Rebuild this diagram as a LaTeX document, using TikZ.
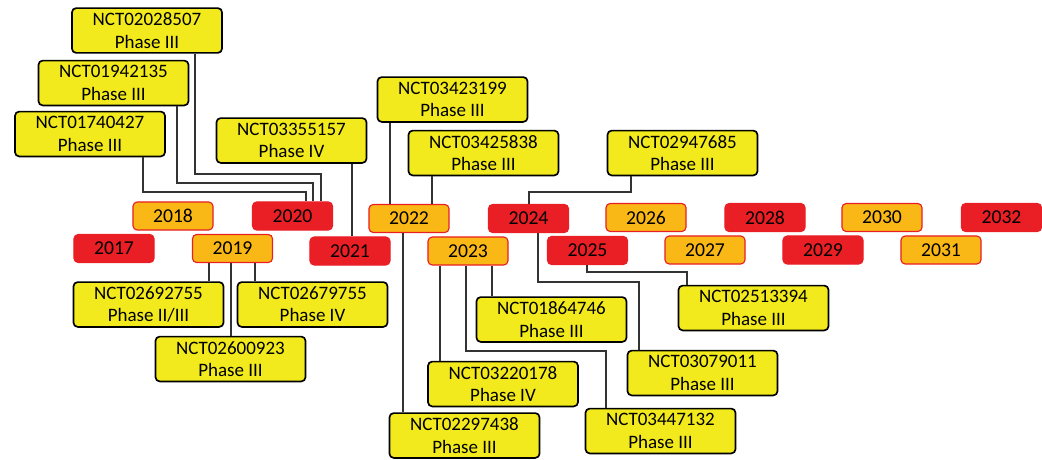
\documentclass[tikz,border=0pt]{standalone}
\usepackage{fontspec}
\setmainfont{Carlito}
\usetikzlibrary{calc}

\definecolor{trialyellow}{RGB}{242,234,28}
\definecolor{yearorange}{RGB}{250,184,22}
\definecolor{yearred}{RGB}{234,30,37}

\begin{document}
\begin{tikzpicture}[x=0.025cm, y=-0.025cm,
  trial/.style={draw=black, line width=1.2pt, fill=trialyellow, rounded corners=3pt,
    minimum width=3.75cm, minimum height=1.12cm, inner sep=1pt, align=center,
    font=\fontsize{13.5}{15.8}\selectfont},
  yearbox/.style={draw=yearred, line width=0.8pt, rounded corners=3pt,
    minimum width=2cm, minimum height=0.7cm, inner sep=0pt,
    font=\fontsize{14}{16}\selectfont},
  link/.style={draw=black!80, line width=0.75pt}]

\useasboundingbox (0,0) rectangle (1042,460);

% Timeline of years, two staggered rows
\foreach \yr/\cx/\cy/\col in {
  2017/114/248.5/yearred,
  2018/173/216/yearorange,
  2019/232.5/248.5/yearorange,
  2020/292.5/216/yearred,
  2021/350/251/yearred,
  2022/409/218.5/yearorange,
  2023/468/251/yearorange,
  2024/528.5/218.5/yearred,
  2025/587.5/250.5/yearred,
  2026/646/217.5/yearorange,
  2027/705/250/yearorange,
  2028/765/217.5/yearred,
  2029/823/250/yearred,
  2030/882/217.5/yearorange,
  2031/941/250/yearorange,
  2032/1001.5/217.5/yearred}{
  \node[yearbox, fill=\col] (y\yr) at (\cx,\cy) {\yr};
}

% Trials above the timeline
\node[trial] (t02028507) at (147,30.5) {NCT02028507\\Phase III};
\node[trial] (t01942135) at (113.5,83) {NCT01942135\\Phase III};
\node[trial] (t01740427) at (90,134) {NCT01740427\\Phase III};
\node[trial] (t03355157) at (291.5,140.5) {NCT03355157\\Phase IV};
\node[trial] (t03423199) at (452.5,99.5) {NCT03423199\\Phase III};
\node[trial] (t03425838) at (483.5,153) {NCT03425838\\Phase III};
\node[trial] (t02947685) at (682.5,153) {NCT02947685\\Phase III};

% Trials below the timeline
\node[trial] (t02692755) at (148.5,304.5) {NCT02692755\\Phase II/III};
\node[trial] (t02679755) at (312.5,304.5) {NCT02679755\\Phase IV};
\node[trial] (t02600923) at (230.5,359) {NCT02600923\\Phase III};
\node[trial] (t01864746) at (551.5,319.5) {NCT01864746\\Phase III};
\node[trial] (t03220178) at (503,384) {NCT03220178\\Phase IV};
\node[trial] (t02297438) at (464.5,435.5) {NCT02297438\\Phase III};
\node[trial] (t03447132) at (660.5,431) {NCT03447132\\Phase III};
\node[trial] (t03079011) at (702.5,373) {NCT03079011\\Phase III};
\node[trial] (t02513394) at (753.5,308) {NCT02513394\\Phase III};

% Links from upper trials down to their year
\draw[link] (t02028507.south -| 195,0) |- (321,174) -- (y2020.north -| 321,0);
\draw[link] (t01942135.south -| 177,0) |- (313,183) -- (y2020.north -| 313,0);
\draw[link] (t01740427.south -| 143,0) |- (306,192) -- (y2020.north -| 306,0);
\draw[link] (t03355157.south -| 352,0) -- (y2021.north -| 352,0);
\draw[link] (t03423199.south -| 390,0) -- (y2022.north -| 390,0);
\draw[link] (t03425838.south -| 432,0) -- (y2022.north -| 432,0);
\draw[link] (t02947685.south -| 631,0) |- (529,192) -- (y2024.north -| 529,0);

% Links from years down to lower trials
\draw[link] (y2019.south -| 209,0) -- (t02692755.north -| 209,0);
\draw[link] (y2019.south -| 231,0) -- (t02600923.north -| 231,0);
\draw[link] (y2019.south -| 255,0) -- (t02679755.north -| 255,0);
\draw[link] (y2022.south -| 403,0) -- (t02297438.north -| 403,0);
\draw[link] (y2023.south -| 440,0) -- (t03220178.north -| 440,0);
\draw[link] (y2023.south -| 466,0) |- (606,351) -- (t03447132.north -| 606,0);
\draw[link] (y2023.south -| 492,0) -- (t01864746.north -| 492,0);
\draw[link] (y2024.south -| 538,0) |- (639,282) -- (t03079011.north -| 639,0);
\draw[link] (y2025.south -| 587,0) |- (687,272) -- (t02513394.north -| 687,0);

\end{tikzpicture}
\end{document}
